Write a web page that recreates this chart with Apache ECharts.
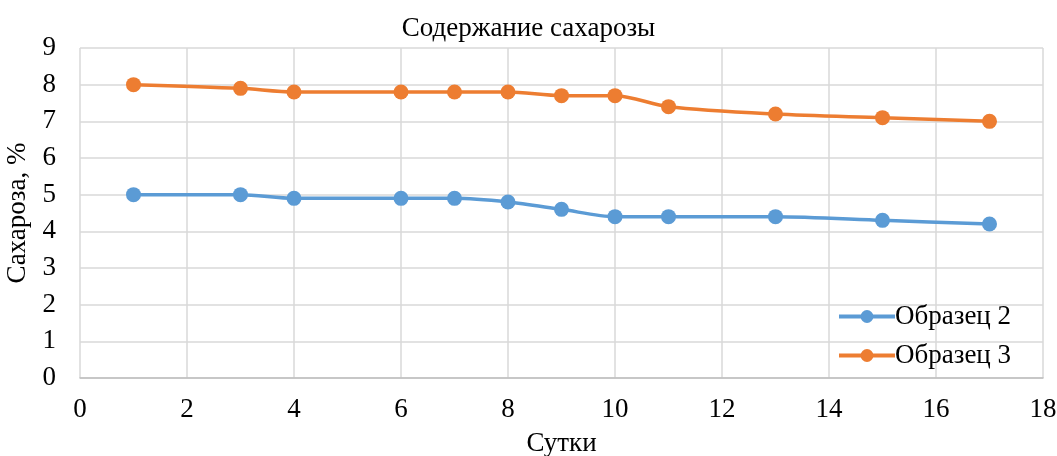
<!DOCTYPE html>
<html><head><meta charset="utf-8">
<script src="https://cdn.jsdelivr.net/npm/echarts@6/dist/echarts.min.js"></script>
<style>html,body{margin:0;padding:0;background:#fff}#c{width:1057px;height:456px}</style>
</head><body><div id="c"></div>
<script>
const days = [1, 3, 4, 6, 7, 8, 9, 10, 11, 13, 15, 17];
const sample2 = [5.0, 5.0, 4.9, 4.9, 4.9, 4.8, 4.6, 4.4, 4.4, 4.4, 4.3, 4.2];
const sample3 = [8.0, 7.9, 7.8, 7.8, 7.8, 7.8, 7.7, 7.7, 7.4, 7.2, 7.1, 7.0];
const seriesNames = ['Образец 2', 'Образец 3'];
const titleText = 'Содержание сахарозы';
const xName = 'Сутки';
const yName = 'Сахароза, %';

const font = 'Liberation Serif, Times New Roman, serif';
const fs = 27;
const chart = echarts.init(document.getElementById('c'));
const mk = (name, vals, color) => ({
  name, type: 'line', smooth: 0.3,
  data: days.map((d, i) => [d, vals[i]]),
  symbol: 'circle', symbolSize: 15,
  lineStyle: {width: 3.5, color}, itemStyle: {color},
});
chart.setOption({
  animation: false,
  title: {text: titleText, left: 'center', top: 10,
    textStyle: {fontFamily: font, fontSize: fs, fontWeight: 'normal', color: '#000'}},
  grid: {left: 80, right: 14, top: 48, bottom: 78, outerBoundsMode: 'none', containLabel: false},
  xAxis: {type: 'value', min: 0, max: 18, interval: 2,
    name: xName, nameLocation: 'middle', nameGap: 52,
    nameTextStyle: {fontFamily: font, fontSize: fs, color: '#000'},
    axisLine: {show: true, lineStyle: {color: '#bfbfbf', width: 1.5}},
    axisTick: {show: false},
    axisLabel: {fontFamily: font, fontSize: fs, color: '#000', margin: 18},
    splitLine: {show: true, lineStyle: {color: '#d9d9d9', width: 1.5}}},
  yAxis: {type: 'value', min: 0, max: 9, interval: 1,
    name: yName, nameLocation: 'middle', nameGap: 40, nameRotate: 90,
    nameTextStyle: {fontFamily: font, fontSize: fs, color: '#000'},
    axisLine: {show: false}, axisTick: {show: false},
    axisLabel: {fontFamily: font, fontSize: fs, color: '#000', margin: 24},
    splitLine: {show: true, lineStyle: {color: '#d9d9d9', width: 1.5}}},
  legend: {orient: 'vertical', left: 832, top: 298, itemGap: 12,
    itemWidth: 56, itemHeight: 16, data: seriesNames,
    lineStyle: {width: 4},
    textStyle: {fontFamily: font, fontSize: fs, color: '#000', padding: [0,0,0,-5]}},
  series: [mk(seriesNames[0], sample2, '#5b9bd5'), mk(seriesNames[1], sample3, '#ed7d31')]
});
</script></body></html>
